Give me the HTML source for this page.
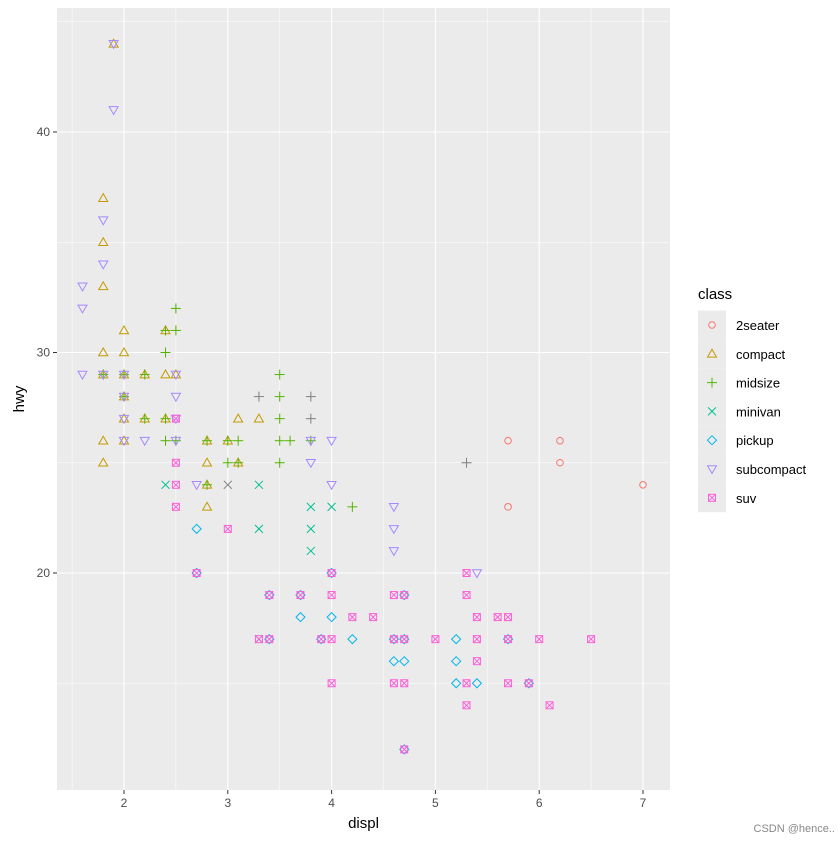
<!DOCTYPE html>
<html><head><meta charset="utf-8"><style>
body{margin:0;background:#fff;font-family:"Liberation Sans",Arial,sans-serif}
</style></head><body>
<svg id="chart" width="840" height="840" xmlns="http://www.w3.org/2000/svg" font-family="Liberation Sans, Arial, sans-serif">
<rect width="840" height="840" fill="#fff"/>
<g id="panel"></g>
<g id="legend"></g>
<text x="835" y="832" font-size="11" fill="#888" text-anchor="end">CSDN @hence..</text>
</svg>
<script>
const classes=["2seater","compact","midsize","minivan","pickup","subcompact","suv"];
const colors=["#F8766D","#C49A00","#53B400","#00C094","#00B6EB","#A58AFF","#FB61D7"];
const shapes=["circle","triangle","plus","cross","diamond","down","squarex"];
const xTicks=[2,3,4,5,6,7];
const yTicks=[20,30,40];
const s2seater=[[5.7,26],[6.2,26],[6.2,25],[5.7,23],[7,24]];
const sCompact=[[1.8,37],[1.8,35],[1.8,33],[1.8,30],[1.8,29],[1.8,26],[1.8,25],[1.9,44],[2,31],[2,30],[2,29],[2,28],[2,27],[2,26],[2.2,29],[2.2,27],[2.4,31],[2.4,29],[2.4,27],[2.5,29],[2.8,26],[2.8,25],[2.8,24],[2.8,23],[3,26],[3.1,27],[3.1,25],[3.3,27]];
const sMidsize=[[1.8,29],[2,29],[2,28],[2.2,29],[2.2,27],[2.4,31],[2.4,30],[2.4,27],[2.4,26],[2.5,32],[2.5,31],[2.5,26],[2.8,26],[2.8,24],[3,26],[3,25],[3.1,26],[3.1,25],[3.5,29],[3.5,28],[3.5,27],[3.5,26],[3.5,25],[3.6,26],[3.8,26],[4.2,23]];
const sMinivan=[[2.4,24],[3.3,24],[3.3,22],[3.3,17],[3.8,23],[3.8,22],[3.8,21],[4,23]];
const sPickup=[[2.7,22],[2.7,20],[3.4,19],[3.4,17],[3.7,18],[3.7,19],[3.9,17],[4,20],[4,18],[4.2,17],[4.6,17],[4.6,16],[4.7,17],[4.7,16],[4.7,12],[4.7,19],[5.2,17],[5.2,16],[5.2,15],[5.4,15],[5.7,17],[5.9,15]];
const sSubcompact=[[1.6,33],[1.6,32],[1.6,29],[1.9,41],[1.9,44],[1.8,36],[1.8,34],[1.8,29],[2,29],[2,28],[2,27],[2,26],[2.2,26],[2.5,29],[2.5,28],[2.5,27],[2.5,26],[2.7,24],[3.8,26],[3.8,25],[4,26],[4,24],[4.6,23],[4.6,22],[4.6,21],[5.4,20]];
const sSuv=[[2.5,25],[2.5,24],[2.5,23],[2.5,27],[2.7,20],[3,22],[3.3,17],[3.4,17],[3.4,19],[3.7,19],[3.9,17],[4,20],[4,19],[4,17],[4,15],[4.2,18],[4.4,18],[4.6,19],[4.6,17],[4.6,15],[4.7,19],[4.7,17],[4.7,15],[4.7,12],[5,17],[5.3,20],[5.3,19],[5.3,15],[5.3,14],[5.4,18],[5.4,17],[5.4,16],[5.6,18],[5.7,18],[5.7,17],[5.7,15],[5.9,15],[6,17],[6.1,14],[6.5,17]];
const sGrayPlus=[[3.3,28],[3.8,28],[3.8,27],[5.3,25]];
const sGrayCross=[[3,24]];
const series=[s2seater,sCompact,sMidsize,sMinivan,sPickup,sSubcompact,sSuv];

const NS="http://www.w3.org/2000/svg";
const PL=57,PR=670,PT=8,PB=790;
const xs=v=>124+(v-2)*103.8;
const ys=v=>573-(v-20)*22.05;
function el(tag,a,p){const e=document.createElementNS(NS,tag);for(const k in a)e.setAttribute(k,a[k]);p.appendChild(e);return e;}
const panel=document.getElementById('panel');
const svg=document.getElementById('chart');
const bg=el('rect',{x:PL,y:PT,width:PR-PL,height:PB-PT,fill:'#EBEBEB'},panel);


for(let v=1.5;v<=7.3;v+=1){el('line',{x1:xs(v),x2:xs(v),y1:PT,y2:PB,stroke:'#fff','stroke-width':0.5},panel);}
for(let v=15;v<=45;v+=10){if(ys(v)>PT)el('line',{x1:PL,x2:PR,y1:ys(v),y2:ys(v),stroke:'#fff','stroke-width':0.5},panel);}
xTicks.forEach(v=>{
 el('line',{x1:xs(v),x2:xs(v),y1:PT,y2:PB,stroke:'#fff','stroke-width':1.1},panel);
 el('line',{x1:xs(v),x2:xs(v),y1:PB,y2:PB+4,stroke:'#333','stroke-width':1},svg);
 const t=el('text',{x:xs(v),y:PB+17,'font-size':12,fill:'#4D4D4D','text-anchor':'middle'},svg);t.textContent=v;
 
 
});
yTicks.forEach(v=>{
 el('line',{x1:PL,x2:PR,y1:ys(v),y2:ys(v),stroke:'#fff','stroke-width':1.1},panel);
 el('line',{x1:PL-4,x2:PL,y1:ys(v),y2:ys(v),stroke:'#333','stroke-width':1},svg);
 const t=el('text',{x:PL-7,y:ys(v)+4,'font-size':12,fill:'#4D4D4D','text-anchor':'end'},svg);t.textContent=v;
 
 
});
const xt=el('text',{x:(PL+PR)/2,y:828,'font-size':15,fill:'#000','text-anchor':'middle'},svg);xt.textContent='displ';


const yt=el('text',{x:24,y:(PT+PB)/2,'font-size':15,fill:'#000','text-anchor':'middle',transform:`rotate(-90 24 ${(PT+PB)/2})`},svg);yt.textContent='hwy';



function mark(shape,x,y,c,p){
 const g=el('g',{fill:'none',stroke:c,'stroke-width':1},p);
 const r=4;
 if(shape==='circle')el('circle',{cx:x,cy:y,r:3.3},g);
 else if(shape==='triangle')el('polygon',{points:`${x},${y-4.5} ${x-4.5},${y+3.3} ${x+4.5},${y+3.3}`},g);
 else if(shape==='down')el('polygon',{points:`${x},${y+4.5} ${x-4.5},${y-3.3} ${x+4.5},${y-3.3}`},g);
 else if(shape==='plus'){el('line',{x1:x-r-1,x2:x+r+1,y1:y,y2:y},g);el('line',{x1:x,x2:x,y1:y-r-1,y2:y+r+1},g);}
 else if(shape==='cross'){el('line',{x1:x-r,x2:x+r,y1:y-r,y2:y+r},g);el('line',{x1:x-r,x2:x+r,y1:y+r,y2:y-r},g);}
 else if(shape==='diamond')el('polygon',{points:`${x},${y-4.5} ${x+4.5},${y} ${x},${y+4.5} ${x-4.5},${y}`},g);
 else if(shape==='squarex'){el('rect',{x:x-3.5,y:y-3.5,width:7,height:7},g);el('line',{x1:x-3.5,x2:x+3.5,y1:y-3.5,y2:y+3.5},g);el('line',{x1:x-3.5,x2:x+3.5,y1:y+3.5,y2:y-3.5},g);}
 return g;
}
series.forEach((s,i)=>s.forEach(d=>{
 const g=mark(shapes[i],xs(d[0]),ys(d[1]),colors[i],panel);
 
 
}));
sGrayPlus.forEach(d=>{const g=mark('plus',xs(d[0]),ys(d[1]),'#7F7F7F',panel);
 
 });
sGrayCross.forEach(d=>{const g=mark('cross',xs(d[0]),ys(d[1]),'#7F7F7F',panel);
 
 });

const lg=document.getElementById('legend');


const lt=el('text',{x:698,y:299,'font-size':15,fill:'#000'},lg);lt.textContent='class';


classes.forEach((c,i)=>{
 const cy=325+i*28.8;
 el('rect',{x:698,y:cy-14.4,width:28,height:28.8,fill:'#EBEBEB'},lg);
 const g=mark(shapes[i],712,cy,colors[i],lg);
 
 
 const t=el('text',{x:736,y:cy+5,'font-size':13,fill:'#000'},lg);t.textContent=c;
 
 
});
</script>
</body></html>
